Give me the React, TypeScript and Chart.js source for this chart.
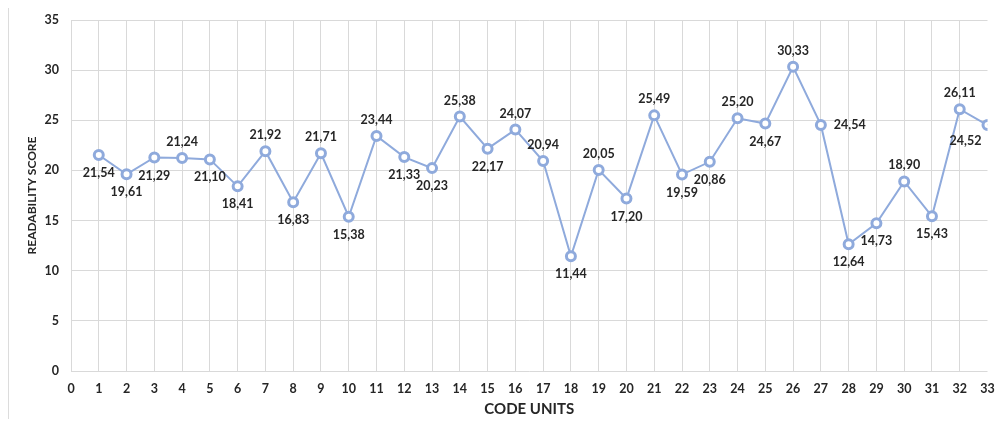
import React, { useEffect, useRef } from "react";
import { Chart, registerables } from "chart.js";

Chart.register(...registerables);

const codeUnits = [1, 2, 3, 4, 5, 6, 7, 8, 9, 10, 11, 12, 13, 14, 15, 16, 17, 18, 19, 20, 21, 22, 23, 24, 25, 26, 27, 28, 29, 30, 31, 32, 33];
const scores = [21.54, 19.61, 21.29, 21.24, 21.1, 18.41, 21.92, 16.83, 21.71, 15.38, 23.44, 21.33, 20.23, 25.38, 22.17, 24.07, 20.94, 11.44, 20.05, 17.2, 25.49, 19.59, 20.86, 25.2, 24.67, 30.33, 24.54, 12.64, 14.73, 18.9, 15.43, 26.11, 24.52];
const labelPositions = [
  "below", "below", "below", "above", "below", "below", "above", "below", "above", "below",
  "above", "below", "below", "above", "below", "above", "above", "below", "above", "below",
  "above", "below", "below", "above", "below", "above", "right", "below", "below", "above",
  "below", "above", "belowleft",
];
const yTicks = [0, 5, 10, 15, 20, 25, 30, 35];

const FONT = "Lato, 'Open Sans', sans-serif";
const TEXT = "#262626";
const LINE = "#8faadc";
const GRID = "#d9d9d9";

const dataLabelPlugin = {
  id: "dataLabels",
  afterDatasetsDraw(chart: any) {
    const ctx = chart.ctx;
    const meta = chart.getDatasetMeta(0);
    ctx.save();
    ctx.font = `bold 12.5px ${FONT}`;
    ctx.fillStyle = TEXT;
    ctx.textBaseline = "middle";
    meta.data.forEach((pt: any, i: number) => {
      const text = scores[i].toFixed(2).replace(".", ",");
      const pos = labelPositions[i];
      let x = pt.x;
      let y = pt.y;
      ctx.textAlign = "center";
      if (pos === "above") y -= 16;
      else if (pos === "below") y += 18;
      else if (pos === "right") {
        ctx.textAlign = "left";
        x += 13;
      } else if (pos === "belowleft") {
        x -= 22;
        y += 16;
      }
      ctx.fillText(text, x, y);
    });
    ctx.restore();
  },
};

export default function App() {
  const ref = useRef<HTMLCanvasElement>(null);
  useEffect(() => {
    if (!ref.current) return;
    const chart = new Chart(ref.current, {
      type: "line",
      data: {
        datasets: [
          {
            data: codeUnits.map((x, i) => ({ x, y: scores[i] })),
            borderColor: LINE,
            borderWidth: 2,
            backgroundColor: "#ffffff",
            pointBackgroundColor: "#ffffff",
            pointBorderColor: LINE,
            pointBorderWidth: 3,
            pointRadius: 4.5,
            tension: 0,
          },
        ],
      },
      options: {
        animation: false,
        responsive: false,
        maintainAspectRatio: false,
        layout: { padding: { left: 0, right: 7, top: 12, bottom: 0 } },
        plugins: {
          legend: { display: false },
          tooltip: { enabled: false },
        },
        scales: {
          x: {
            type: "linear",
            min: 0,
            max: 33,
            afterFit: (s: any) => {
              s.height = 48;
              s.paddingLeft = 0;
              s.paddingRight = 0;
            },
            afterBuildTicks: (s: any) => {
              s.ticks = [0, ...codeUnits].map((v) => ({ value: v }));
            },
            grid: {
              color: (c: any) => (c.tick && c.tick.value === 33 ? "rgba(0,0,0,0)" : GRID),
              lineWidth: 1,
              drawTicks: false,
            },
            border: { display: false },
            ticks: {
              autoSkip: false,
              maxRotation: 0,
              padding: 10,
              color: TEXT,
              font: { family: FONT, size: 12.5, weight: "bold" },
            },
            title: {
              display: true,
              text: "CODE UNITS",
              color: TEXT,
              font: { family: FONT, size: 15, weight: "bold" },
              padding: { top: 0, bottom: 1 },
            },
          },
          y: {
            min: 0,
            max: 35,
            afterFit: (s: any) => {
              s.width = 62;
              s.paddingTop = 0;
              s.paddingBottom = 0;
            },
            afterBuildTicks: (s: any) => {
              s.ticks = yTicks.map((v) => ({ value: v }));
            },
            grid: { color: GRID, lineWidth: 1, drawTicks: false },
            border: { display: false },
            ticks: {
              padding: 12,
              color: TEXT,
              font: { family: FONT, size: 12.5, weight: "bold" },
            },
            title: {
              display: true,
              text: "READABILITY SCORE",
              color: TEXT,
              font: { family: FONT, size: 12, weight: "bold" },
              padding: { top: 16, bottom: 0 },
            },
          },
        },
      },
      plugins: [dataLabelPlugin],
    } as any);
    return () => chart.destroy();
  }, []);
  return (
    <div style={{ width: 986, height: 411, borderLeft: "1px solid #dcdcdc", background: "#fff" }}>
      <canvas ref={ref} width={986} height={411} style={{ display: "block", width: 986, height: 411 }} />
    </div>
  );
}
